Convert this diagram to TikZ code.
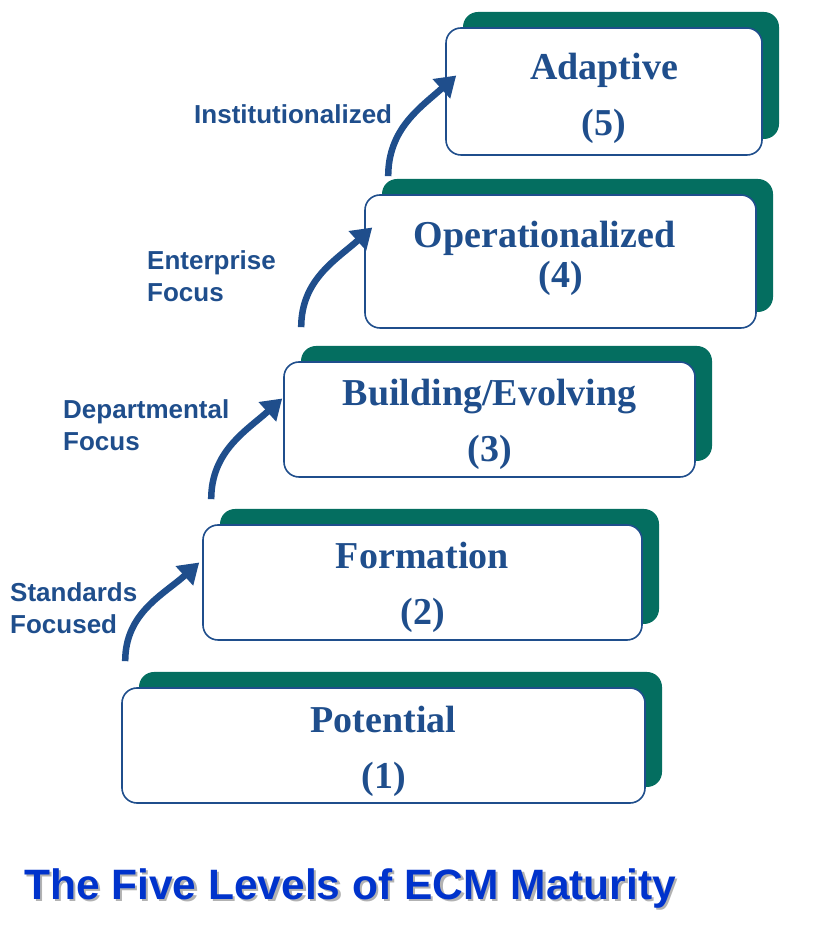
\documentclass[tikz,border=0pt]{standalone}
\usepackage{fontspec}
\setmainfont{Liberation Serif}
\newfontfamily\labelfont{Liberation Sans}
\usetikzlibrary{arrows.meta,shadows}
\definecolor{levelblue}{RGB}{31,78,140}
\definecolor{levelteal}{RGB}{4,110,96}
\definecolor{titleblue}{RGB}{0,51,204}
\begin{document}
\begin{tikzpicture}[x=1pt,y=1pt,
  levelbox/.style={draw=levelblue, line width=1.6pt, fill=white, rounded corners=15pt,
    general shadow={fill=levelteal, shadow xshift=17pt, shadow yshift=16pt}},
  leveltext/.style={align=center, text=levelblue, inner sep=0pt,
    font=\bfseries\fontsize{38}{56}\selectfont},
  steplabel/.style={anchor=west, inner sep=0pt, align=left, text=levelblue,
    font=\labelfont\bfseries\fontsize{26}{32}\selectfont},
  steparrow/.style={draw=levelblue, line width=6.5pt, -{Triangle[width=25pt,length=20pt]}}]
\useasboundingbox (0,0) rectangle (825,934);
\node[levelbox, minimum width=523pt, minimum height=115pt] (L1) at (383.5,188.5) {};
\node[levelbox, minimum width=439pt, minimum height=115pt] (L2) at (422.5,351.5) {};
\node[levelbox, minimum width=411pt, minimum height=115pt] (L3) at (489.5,514.5) {};
\node[levelbox, minimum width=391pt, minimum height=133pt] (L4) at (560.5,672.5) {};
\node[levelbox, minimum width=316pt, minimum height=127pt] (L5) at (604,842.5) {};
\node[leveltext] (T1) at ([yshift=-6pt]L1.center) {Potential\\(1)};
\node[leveltext] (T2) at ([yshift=-5pt]L2.center) {Formation\\(2)};
\node[leveltext] (T3) at ([yshift=-5pt]L3.center) {Building/Evolving\\(3)};
\node[leveltext] (T4) at ([yshift=3pt]L4.center) {Operationalized\hspace*{32pt}\\[-16pt](4)};
\node[leveltext] (T5) at ([yshift=-7pt]L5.center) {Adaptive\\(5)};
\draw[steparrow] ([xshift=4pt,yshift=26pt]L1.north west) to[out=90,in=222] ([xshift=-3pt,yshift=20pt]L2.west);
\draw[steparrow] ([xshift=9pt,yshift=25pt]L2.north west) to[out=90,in=222] ([xshift=-1pt,yshift=21pt]L3.west);
\draw[steparrow] ([xshift=18pt,yshift=34pt]L3.north west) to[out=90,in=222] ([xshift=8pt,yshift=34pt]L4.west);
\draw[steparrow] ([xshift=24pt,yshift=18pt]L4.north west) to[out=90,in=222] ([xshift=11pt,yshift=16pt]L5.west);
\node[steplabel] (s1) at (10,326) {Standards\\Focused};
\node[steplabel] (s2) at (63,509) {Departmental\\Focus};
\node[steplabel] (s3) at (147,658) {Enterprise\\Focus};
\node[steplabel] (s4) at (194,820) {Institutionalized};
\node[text=black!30, font=\labelfont\bfseries\fontsize{42.5}{50}\selectfont] (titleshadow) at (352.5,43) {The Five Levels of ECM Maturity};
\node[text=titleblue, font=\labelfont\bfseries\fontsize{42.5}{50}\selectfont] (title) at (350,45.5) {The Five Levels of ECM Maturity};
\end{tikzpicture}
\end{document}
